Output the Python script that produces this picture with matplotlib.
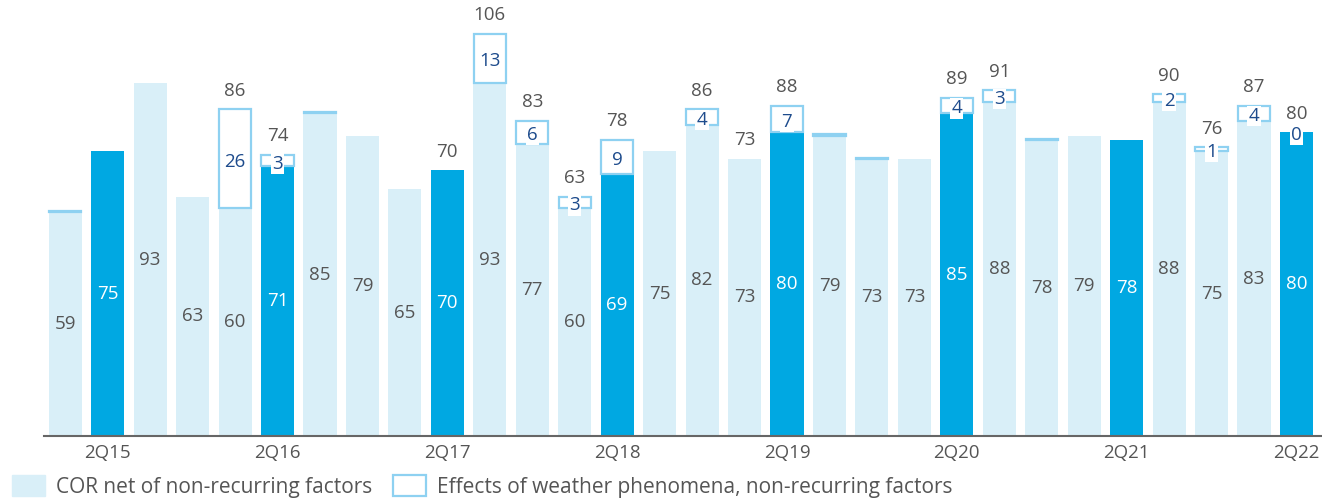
import matplotlib
matplotlib.use("Agg")
import matplotlib.pyplot as plt
from matplotlib.patches import Patch
import numpy as np

quarters = ["1Q15","2Q15","3Q15","4Q15","1Q16","2Q16","3Q16","4Q16",
            "1Q17","2Q17","3Q17","4Q17","1Q18","2Q18","3Q18","4Q18",
            "1Q19","2Q19","3Q19","4Q19","1Q20","2Q20","3Q20","4Q20",
            "1Q21","2Q21","3Q21","4Q21","1Q22","2Q22"]
cor_net = [59, 75, 93, 63, 60, 71, 85, 79,
           65, 70, 93, 77, 60, 69, 75, 82,
           73, 80, 79, 73, 73, 85, 88, 78,
           79, 78, 88, 75, 83, 80]
weather = [0.3, 0, 0, 0, 26, 3, 0.3, 0,
           0, 0, 13, 6, 3, 9, 0, 4,
           0, 7, 0.6, 0.2, 0, 4, 3, 0.3,
           0, 0, 2, 1, 4, 0]
weather_labels = [None, None, None, None, "26", "3", None, None,
                  None, None, "13", "6", "3", "9", None, "4",
                  None, "7", None, None, None, "4", "3", None,
                  None, None, "2", "1", "4", "0"]
total_labels = [None, None, None, None, "86", "74", None, None,
                None, "70", "106", "83", "63", "78", None, "86",
                "73", "88", None, None, None, "89", "91", None,
                None, None, "90", "76", "87", "80"]
tick_labels = ["2Q15", "2Q16", "2Q17", "2Q18", "2Q19", "2Q20", "2Q21", "2Q22"]

LIGHT = "#d9eff8"
DARK = "#00a8e2"
EDGE = "#8ed1f1"
NAVY = "#1d4b8c"
GRAY = "#555555"

plt.rcParams['font.family'] = ['Open Sans', 'DejaVu Sans']

fig = plt.figure(figsize=(13.22, 4.99), dpi=100)
ax = fig.add_axes([0.0333, 0.126, 0.966, 0.87])

x = np.arange(len(quarters))
w = 0.78
colors = [DARK if q.startswith("2Q") else LIGHT for q in quarters]
ax.bar(x, cor_net, width=w, color=colors, zorder=2)
wx = [x[i] for i in range(len(x)) if weather[i] > 0]
wh = [weather[i] for i in range(len(x)) if weather[i] > 0]
wb = [cor_net[i] for i in range(len(x)) if weather[i] > 0]
ax.bar(wx, wh, width=w * 0.97, bottom=wb, facecolor="white",
       edgecolor=EDGE, linewidth=1.6, zorder=3)

for i in range(len(x)):
    c = cor_net[i]
    txtcol = "white" if colors[i] == DARK else GRAY
    ax.text(x[i], c / 2, str(c), ha="center", va="center", fontsize=13.5,
            color=txtcol, zorder=5)
    if weather_labels[i] is not None:
        ax.annotate(weather_labels[i], (x[i], c + weather[i] / 2),
                    xytext=(0, -2), textcoords="offset points",
                    ha="center", va="center", fontsize=13.5, color=NAVY, zorder=6,
                    bbox=dict(facecolor="white", edgecolor="none", pad=1.0))
    if total_labels[i] is not None:
        ax.annotate(total_labels[i], (x[i], c + weather[i]),
                    xytext=(0, 13.5), textcoords="offset points",
                    ha="center", va="center", fontsize=13.5, color=GRAY, zorder=6)

ax.set_xlim(-0.5, 29.58)
ax.set_ylim(0, 114.3)
tick_pos = [i for i, q in enumerate(quarters) if q in tick_labels]
ax.set_xticks(tick_pos)
ax.set_xticklabels([quarters[i] for i in tick_pos], fontsize=13.5, color=GRAY)
ax.tick_params(axis="x", length=0, pad=6)
ax.set_yticks([])
for s in ["top", "right", "left"]:
    ax.spines[s].set_visible(False)
ax.spines["bottom"].set_color("#666666")
ax.spines["bottom"].set_linewidth(1.5)
ax.spines["bottom"].set_zorder(4)

handles = [Patch(facecolor=LIGHT, edgecolor=LIGHT, label="COR net of non-recurring factors"),
           Patch(facecolor="white", edgecolor=EDGE, linewidth=1.6,
                 label="Effects of weather phenomena, non-recurring factors")]
fig.legend(handles=handles, loc="lower left", bbox_to_anchor=(-0.005, -0.035), ncol=2,
           frameon=False, fontsize=15, handlelength=1.6, handleheight=1.2,
           handletextpad=0.5, columnspacing=1.0, labelcolor=GRAY)

fig.savefig("out.png", dpi=100)
